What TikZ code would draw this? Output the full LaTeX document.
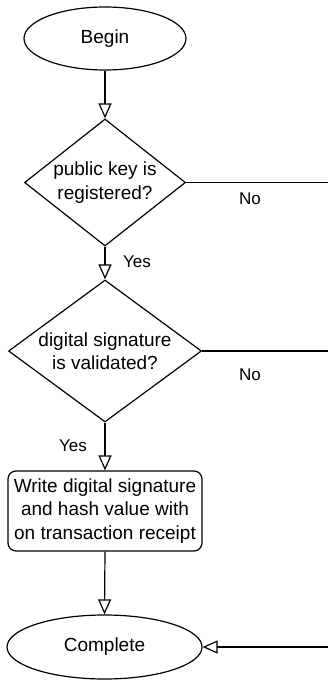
\documentclass[tikz,border=0pt]{standalone}
\usepackage{fontspec}
\setmainfont{Liberation Sans}
\usetikzlibrary{shapes.geometric,arrows.meta}
\begin{document}
\begin{tikzpicture}[x=1pt,y=-1pt,
  line width=1.2pt,
  every node/.style={font=\fontsize{19}{23.5}\selectfont},
  terminal/.style={draw,ellipse,inner sep=0pt},
  decision/.style={draw,diamond,inner sep=0pt,align=center},
  process/.style={draw,rounded corners=8pt,inner sep=0pt,align=center},
  lbl/.style={font=\fontsize{17}{20}\selectfont,inner sep=0pt},
  flow/.style={-{Triangle[open,length=15pt,width=13pt]}}]
  \useasboundingbox (0,0) rectangle (328,680);

  % shapes of the flow
  \node[terminal,minimum width=162pt,minimum height=63pt] (begin) at (105,38.5) {Begin};
  \node[decision,shape aspect=1.27,minimum width=161pt,minimum height=127pt] (regd) at (105,182.5)
    {public key is\\registered?};
  \node[decision,shape aspect=1.36,minimum width=193pt,minimum height=142pt] (valid) at (105,351)
    {digital signature\\is validated?};
  \node[process,minimum width=194pt,minimum height=80pt] (write) at (105,511)
    {Write digital signature\\and hash value with\\on transaction receipt};
  \node[terminal,minimum width=195pt,minimum height=64pt] (done) at (104.5,647) {Complete};

  % branch ends running off to the right
  \coordinate (noA) at (328,182.5);
  \coordinate (noB) at (328,351);
  \coordinate (back) at (328,647);

  % connectors
  \draw[flow] (begin) -- (regd.north);
  \draw[flow] (regd.south) -- (valid.north);
  \draw[flow] (valid.south) -- (write.north);
  \draw[flow] (write.south) -- (done.north);
  \draw (regd.east) -- (noA);
  \draw (valid.east) -- (noB);
  \draw[flow] (back) -- (done.east);

  % branch labels
  \node[lbl] (yesA) at (137,262) {Yes};
  \node[lbl] (noLA) at (250,199) {No};
  \node[lbl] (noLB) at (250,375) {No};
  \node[lbl] (yesB) at (73,446) {Yes};
\end{tikzpicture}
\end{document}
